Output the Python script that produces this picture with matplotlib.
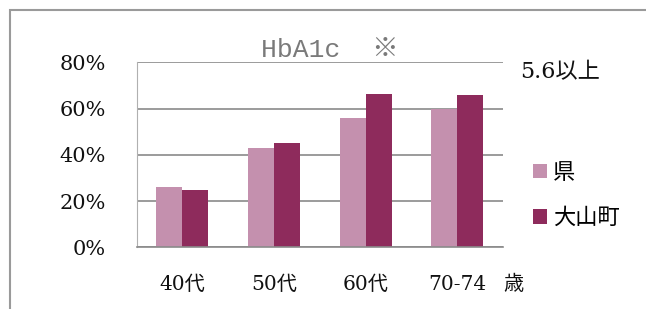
import numpy as np
import matplotlib
matplotlib.use("Agg")
import matplotlib.pyplot as plt
from matplotlib.patches import Rectangle

plt.rcParams['font.family'] = ['DejaVu Serif', 'Noto Sans CJK JP']

# data
ages = ['40代', '50代', '60代', '70-74']
ken = [26.2, 42.8, 55.8, 59.8]
oyama = [24.8, 45.0, 66.3, 65.9]
series_names = ['県', '大山町']
series_colors = ['#c490ae', '#8e2b5c']
yticks = [0, 20, 40, 60, 80]

W, H = 646, 309
fig = plt.figure(figsize=(W / 100, H / 100), dpi=100)
ax = fig.add_axes([136.7 / W, 1 - 247.3 / H, (503 - 136.7) / W, (247.3 - 62.3) / H])

x = np.arange(len(ages))
bw = 0.284
ax.bar(x - bw / 2, ken, bw, color=series_colors[0], label=series_names[0])
ax.bar(x + bw / 2, oyama, bw, color=series_colors[1], label=series_names[1])

ax.set_xlim(-0.5, len(ages) - 0.5)
ax.set_ylim(0, 80)
ax.set_yticks(yticks)
ax.set_yticklabels([f'{v}%' for v in yticks], fontsize=15, color='#111111')
ax.set_xticks(x)
ax.set_xticklabels(ages, fontsize=14.5, color='#111111')
ax.tick_params(length=0)
ax.tick_params(axis='y', pad=22)
ax.tick_params(axis='x', pad=20)
ax.yaxis.grid(True, color='#8a8a8a', linewidth=1.2)
ax.set_axisbelow(True)
for side in ['top', 'right']:
    ax.spines[side].set_visible(False)
ax.spines['left'].set_color('#b0b0b0')
ax.spines['left'].set_linewidth(0.8)
ax.spines['bottom'].set_color('#8a8a8a')
ax.spines['bottom'].set_linewidth(1.2)

ax.set_title('HbA1c  ※', family=['Liberation Mono', 'Noto Sans CJK JP'],
             fontsize=19, color='#7a7a7a', pad=-1, x=0.527)

fig.text(513 / W, 1 - 284 / H, '歳', fontsize=14.5, ha='center', va='center',
         family=['Noto Sans CJK JP'], color='#111111')
fig.text(520 / W, 1 - 72 / H, '5.6以上', fontsize=16, ha='left', va='center',
         color='#111111')

leg = fig.legend(loc='upper left', bbox_to_anchor=(524 / W, 1 - 152 / H),
                 frameon=False, fontsize=16, handlelength=0.65, handleheight=0.65,
                 handletextpad=0.25, labelspacing=1.0, borderaxespad=0)
for t in leg.get_texts():
    t.set_family(['Noto Sans CJK JP'])

# outer frame of the scanned box
fig.patches.append(Rectangle((10 / W, -0.1), 1.2, 1 - 10 / H + 0.1,
                             transform=fig.transFigure, fill=False,
                             edgecolor='#9a9a9a', linewidth=1.5))

fig.savefig('out.png', dpi=100)
